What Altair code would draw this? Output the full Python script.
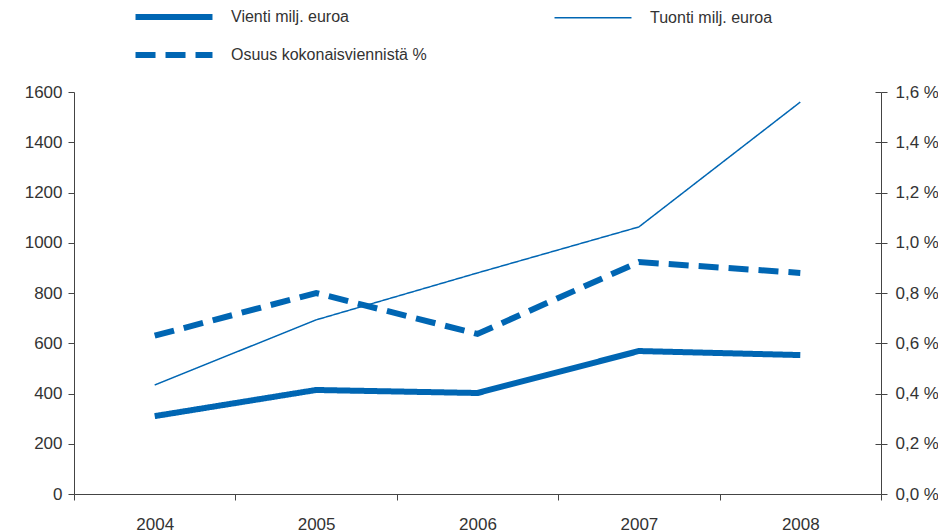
import altair as alt
import pandas as pd

years = ["2004", "2005", "2006", "2007", "2008"]
vienti = [310, 414, 402, 569, 553]
tuonti = [434, 693, 880, 1063, 1560]
osuus = [0.63, 0.80, 0.637, 0.923, 0.88]

# order chosen so that the column-major legend shows Vienti & Tuonti on the first row
series_names = ["Vienti milj. euroa", "Osuus kokonaisviennistä %", "Tuonti milj. euroa"]
left_ticks = [0, 200, 400, 600, 800, 1000, 1200, 1400, 1600]
right_ticks = [0.0, 0.2, 0.4, 0.6, 0.8, 1.0, 1.2, 1.4, 1.6]

rows_left = []
rows_right = []
for yr, v, t, o in zip(years, vienti, tuonti, osuus):
    rows_left.append({"year": yr, "series": series_names[0], "value": v})
    rows_left.append({"year": yr, "series": series_names[2], "value": t})
    rows_right.append({"year": yr, "series": series_names[1], "value": o})
df_left = pd.DataFrame(rows_left)
df_right = pd.DataFrame(rows_right)

BLUE = "#0066b3"
FONT = "Liberation Sans"
TXT = "#333333"
AXC = "#444444"

x_enc = alt.X(
    "year:O",
    scale=alt.Scale(type="band", paddingInner=0, paddingOuter=0),
    bandPosition=0.5,
    axis=alt.Axis(title=None, tickBand="extent", labelAngle=0, tickSize=6,
                  labelPadding=16, labelFontSize=17, labelFont=FONT,
                  labelColor=TXT, domainColor=AXC, tickColor=AXC, grid=False),
)

dash_enc = alt.StrokeDash(
    "series:N",
    scale=alt.Scale(domain=series_names, range=[[1, 0], [20, 10], [1, 0]]),
    legend=alt.Legend(title=None, orient="none", legendX=89, legendY=-86,
                      columns=2, columnPadding=124, rowPadding=14,
                      symbolType="M-5,0H5", symbolSize=237,
                      symbolStrokeColor=BLUE, labelFontSize=16,
                      labelFont=FONT, labelColor=TXT, labelLimit=400,
                      labelOffset=46),
)
width_enc = alt.StrokeWidth(
    "series:N",
    scale=alt.Scale(type="ordinal", domain=series_names, range=[6, 6, 1.5]),
    legend=alt.Legend(title=None),
)

left = alt.Chart(df_left).mark_line(color=BLUE).encode(
    x=x_enc,
    y=alt.Y("value:Q", scale=alt.Scale(domain=[0, 1600], nice=False),
            axis=alt.Axis(title=None, values=left_ticks, tickSize=6, format="d",
                          labelFontSize=17, labelFont=FONT, labelColor=TXT,
                          labelPadding=6, domainColor=AXC, tickColor=AXC,
                          grid=False)),
    strokeDash=dash_enc,
    strokeWidth=width_enc,
    detail="series:N",
)

right = alt.Chart(df_right).mark_line(color=BLUE).encode(
    x=x_enc,
    y=alt.Y("value:Q", scale=alt.Scale(domain=[0, 1.6], nice=False),
            axis=alt.Axis(title=None, orient="right", values=right_ticks,
                          tickSize=6, labelFontSize=17, labelFont=FONT,
                          labelColor=TXT, labelPadding=8, domainColor=AXC,
                          tickColor=AXC, grid=False,
                          labelExpr="replace(format(datum.value, '.1f'), '.', ',') + ' %'")),
    strokeDash=dash_enc,
    strokeWidth=width_enc,
)

# inner half of the right-axis ticks (ticks cross the axis line)
right_inner = alt.Chart(df_right).mark_line(opacity=0).encode(
    x=x_enc,
    y=alt.Y("value:Q", scale=alt.Scale(domain=[0, 1.6], nice=False),
            axis=alt.Axis(title=None, orient="right", values=right_ticks,
                          tickSize=6, offset=-6, labels=False, domain=False,
                          tickColor=AXC, grid=False)),
)

chart = alt.layer(left, right, right_inner).resolve_scale(y="independent").properties(
    width=807,
    height=402,
    autosize=alt.AutoSizeParams(type="none"),
    padding={"left": 66, "top": 84, "right": 57, "bottom": 38},
).configure_view(stroke=None)

chart.save("out.html", embed_options={"renderer": "svg", "actions": False})
